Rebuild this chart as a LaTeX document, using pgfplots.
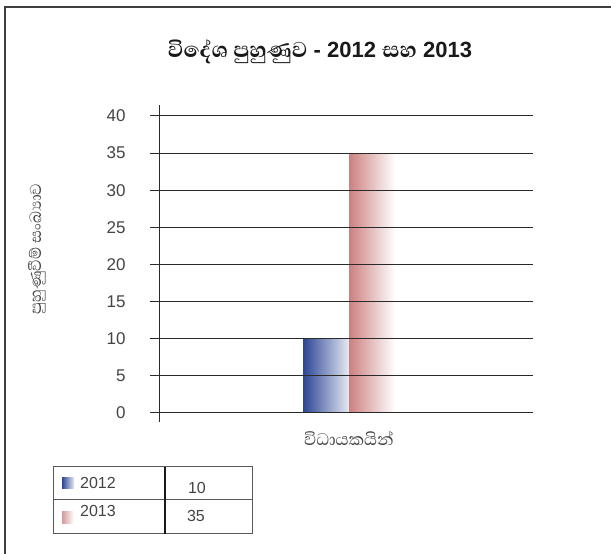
\documentclass[border=0pt]{standalone}
\usepackage{fontspec}
\setmainfont{Liberation Sans}
\newfontfamily\sinhala[Script=Sinhala, Scale=1.35]{Abhaya Libre}
\newfontfamily\sinhalab[Script=Sinhala, Scale=1.25]{Abhaya Libre ExtraBold}
\usepackage{pgfplots}
\pgfplotsset{compat=1.18}
\definecolor{blueL}{HTML}{2B4594}
\definecolor{blueR}{HTML}{E6EAF4}
\definecolor{pinkL}{HTML}{CC8080}
\definecolor{txt}{HTML}{444444}
\definecolor{gridc}{HTML}{2A2A2A}
\begin{document}
\begin{tikzpicture}
\useasboundingbox (0pt,0pt) rectangle (611pt,554pt);
\draw[line width=1.6pt, black!75] (5pt,0pt) -- (5pt,547pt) -- (611pt,547pt);
\begin{axis}[
  at={(159pt,141pt)}, anchor=origin,
  scale only axis, width=374pt, height=297pt,
  xmin=0, xmax=2, ymin=0, ymax=40,
  ytick={0,5,...,40},
  xtick={1}, xticklabels={{\sinhala විධායකයින්}},
  axis lines*=left,
  x axis line style={draw=none},
  y axis line style={gridc, line width=1pt, shorten <=-9pt, shorten >=-11pt},
  tick align=outside, major tick length=9pt,
  xtick style={draw=none},
  ytick style={gridc, line width=1pt},
  ymajorgrids, grid style={gridc, line width=1pt},
  axis on top,
  /pgf/number format/assume math mode=true,
  yticklabel style={font=\fontsize{17}{18}\selectfont, text=txt, xshift=-21pt},
  xticklabel style={font=\fontsize{16}{18}\selectfont, text=txt, yshift=-6pt, xshift=3pt},
]
\addplot[ybar, bar width=46pt, bar shift=-20pt, draw=none, left color=blueL, right color=blueR] coordinates {(1,10)};
\addplot[ybar, bar width=46pt, bar shift=26pt, draw=none, left color=pinkL, right color=white] coordinates {(1,35)};
\end{axis}
% title
\node[text=black!90] at (320pt,502pt) {\fontsize{22}{26}\selectfont\bfseries{\sinhalab විදේශ පුහුණුව} - 2012 {\sinhalab සහ} 2013};
% y label
\node[rotate=90, text=txt] at (37pt,305pt) {\fontsize{15}{17}\selectfont\sinhala පුහුණුවීම් සංඛ්‍යාව};
% table
\draw[black!65, line width=1pt] (53pt,20pt) rectangle (252pt,87pt);
\draw[black!65, line width=1pt] (53pt,54pt) -- (252pt,54pt);
\draw[black!90, line width=1.2pt] (165pt,20pt) -- (165pt,87pt);
\shade[left color=blueL, right color=blueR] (62pt,65pt) rectangle (74pt,76pt);
\shade[left color=pinkL!80, right color=white] (62pt,30pt) rectangle (74pt,42pt);
\node[anchor=west, text=txt, inner sep=0pt] at (80pt,71pt) {\fontsize{16}{18}\selectfont 2012};
\node[anchor=west, text=txt, inner sep=0pt] at (80pt,43pt) {\fontsize{16}{18}\selectfont 2013};
\node[text=txt, inner sep=0pt] at (197pt,66pt) {\fontsize{16}{18}\selectfont 10};
\node[text=txt, inner sep=0pt] at (196pt,38pt) {\fontsize{16}{18}\selectfont 35};
\end{tikzpicture}
\end{document}
